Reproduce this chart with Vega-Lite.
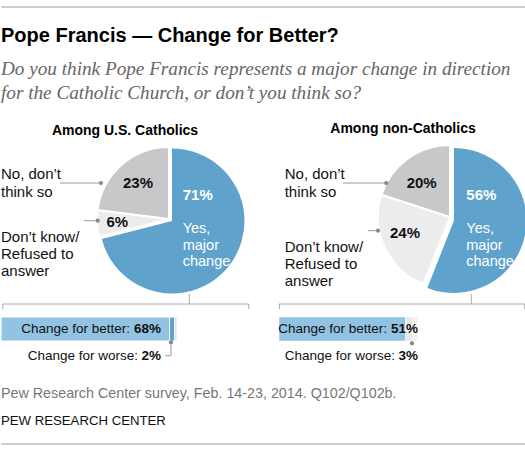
{
  "$schema": "https://vega.github.io/schema/vega-lite/v6.json",
  "padding": {"left": 0, "right": 0, "top": 5, "bottom": 5},
  "background": "#ffffff",
  "config": {
    "view": {"stroke": null},
    "axis": {"disable": true},
    "legend": {"disable": true},
    "font": "Liberation Sans",
    "text": {"font": "Liberation Sans", "fontSize": 15, "baseline": "middle", "color": "#111111"},
    "title": {"font": "Liberation Sans"}
  },
  "datasets": {
    "cathPie": [
      {"response": "Yes, major change", "share": 0.71, "order": 1},
      {"response": "Don’t know/Refused to answer", "share": 0.06, "order": 2},
      {"response": "No, don’t think so", "share": 0.23, "order": 3}
    ],
    "nonPie": [
      {"response": "Yes, major change", "share": 0.56, "order": 1},
      {"response": "Don’t know/Refused to answer", "share": 0.24, "order": 2},
      {"response": "No, don’t think so", "share": 0.20, "order": 3}
    ],
    "cathBar": [
      {"assessment": "Change for better", "share": 0.68, "order": 1},
      {"assessment": "Change for worse", "share": 0.02, "order": 2},
      {"assessment": "Neither/Don’t know", "share": 0.01, "order": 3}
    ],
    "nonBar": [
      {"assessment": "Change for better", "share": 0.51, "order": 1},
      {"assessment": "Change for worse", "share": 0.03, "order": 2},
      {"assessment": "Neither/Don’t know", "share": 0.02, "order": 3}
    ]
  },
  "spacing": 18,
  "vconcat": [
    {
      "width": 525,
      "height": 1,
      "data": {"values": []},
      "mark": {"type": "point", "opacity": 0},
      "encoding": {},
      "view": {"stroke": "#cccccc", "strokeWidth": 1},
      "title": {
        "text": "Pope Francis — Change for Better?",
        "subtitle": ["Do you think Pope Francis represents a major change in direction", "for the Catholic Church, or don’t you think so?"],
        "orient": "bottom",
        "anchor": "start",
        "frame": "group",
        "offset": 19,
        "font": "Liberation Sans",
        "fontSize": 20,
        "fontWeight": "bold",
        "color": "#000000",
        "subtitleFont": "Liberation Serif",
        "subtitleFontStyle": "italic",
        "subtitleFontSize": 19.2,
        "subtitleColor": "#666666",
        "subtitleLineHeight": 24,
        "subtitlePadding": 13.5
      }
    },
    {
      "spacing": 28,
      "hconcat": [
        {
          "width": 248,
          "height": 224,
          "title": {"text": "Among U.S. Catholics", "fontSize": 14, "fontWeight": "bold", "color": "#000000", "offset": 5, "anchor": "middle", "frame": "group"},
          "data": {"name": "cathPie"},
          "resolve": {"scale": {"color": "independent"}},
          "layer": [
            {
              "transform": [
                {"stack": "share", "groupby": [], "sort": [{"field": "order", "order": "ascending"}], "as": ["t0", "t1"]},
                {"filter": {"field": "response", "oneOf": ["Don’t know/Refused to answer", "No, don’t think so"]}}
              ],
              "mark": {"type": "arc", "radius": 72, "stroke": "#ffffff", "strokeWidth": 2},
              "encoding": {
                "theta": {"field": "t0", "type": "quantitative", "scale": {"domain": [0, 1]}},
                "theta2": {"field": "t1"},
                "color": {"field": "response", "type": "nominal", "scale": {"domain": ["Don’t know/Refused to answer", "No, don’t think so"], "range": ["#ececec", "#c8c8c8"]}},
                "x": {"datum": 0.6774, "type": "quantitative", "scale": {"domain": [0, 1], "nice": false, "zero": false}},
                "y": {"datum": 75, "type": "quantitative", "scale": {"domain": [0, 224], "reverse": true, "nice": false, "zero": false}}
              }
            },
            {
              "transform": [
                {"stack": "share", "groupby": [], "sort": [{"field": "order", "order": "ascending"}], "as": ["t0", "t1"]},
                {"filter": {"field": "response", "equal": "Yes, major change"}}
              ],
              "mark": {"type": "arc", "radius": 72.5},
              "encoding": {
                "theta": {"field": "t0", "type": "quantitative", "scale": {"domain": [0, 1]}},
                "theta2": {"field": "t1"},
                "color": {"field": "response", "type": "nominal", "scale": {"domain": ["Yes, major change"], "range": ["#5fa3cd"]}},
                "x": {"datum": 0.6895, "type": "quantitative"},
                "y": {"datum": 77, "type": "quantitative"}
              }
            },
            {
              "transform": [{"filter": {"field": "response", "equal": "No, don’t think so"}}],
              "mark": {"type": "text", "fontWeight": "bold", "fontSize": 15},
              "encoding": {"text": {"field": "share", "type": "quantitative", "format": ".0%"}, "x": {"datum": 0.5524, "type": "quantitative"}, "y": {"datum": 38.5, "type": "quantitative"}}
            },
            {
              "transform": [{"filter": {"field": "response", "equal": "Don’t know/Refused to answer"}}],
              "mark": {"type": "text", "fontWeight": "bold", "fontSize": 15},
              "encoding": {"text": {"field": "share", "type": "quantitative", "format": ".0%"}, "x": {"datum": 0.469, "type": "quantitative"}, "y": {"datum": 77.8, "type": "quantitative"}}
            },
            {
              "transform": [{"filter": {"field": "response", "equal": "Yes, major change"}}],
              "mark": {"type": "text", "fontWeight": "bold", "fontSize": 15, "align": "left", "color": "#ffffff"},
              "encoding": {"text": {"field": "share", "type": "quantitative", "format": ".0%"}, "x": {"datum": 0.7327, "type": "quantitative"}, "y": {"datum": 50.7, "type": "quantitative"}}
            },
            {
              "transform": [{"filter": {"field": "response", "equal": "Yes, major change"}}],
              "mark": {"type": "text", "text": ["Yes,", "major", "change"], "fontSize": 14.5, "align": "left", "color": "#ffffff", "lineHeight": 16.7},
              "encoding": {"x": {"datum": 0.7327, "type": "quantitative"}, "y": {"datum": 85, "type": "quantitative"}}
            },
            {
              "transform": [{"filter": {"field": "response", "equal": "No, don’t think so"}}],
              "mark": {"type": "text", "text": ["No, don’t", "think so"], "fontSize": 15, "align": "left", "lineHeight": 17.3},
              "encoding": {"x": {"datum": 0.0, "type": "quantitative"}, "y": {"datum": 30.3, "type": "quantitative"}}
            },
            {
              "transform": [{"filter": {"field": "response", "equal": "No, don’t think so"}}],
              "mark": {"type": "rule", "color": "#9a9a9a", "strokeWidth": 1},
              "encoding": {"x": {"datum": 0.2379, "type": "quantitative"}, "x2": {"datum": 0.4032}, "y": {"datum": 39, "type": "quantitative"}}
            },
            {
              "transform": [{"filter": {"field": "response", "equal": "No, don’t think so"}}],
              "mark": {"type": "point", "filled": true, "size": 18, "color": "#888888", "opacity": 1},
              "encoding": {"x": {"datum": 0.4032, "type": "quantitative"}, "y": {"datum": 39, "type": "quantitative"}}
            },
            {
              "transform": [{"filter": {"field": "response", "equal": "Don’t know/Refused to answer"}}],
              "mark": {"type": "text", "text": ["Don’t know/", "Refused to", "answer"], "fontSize": 15, "align": "left", "lineHeight": 16.7},
              "encoding": {"x": {"datum": 0.0, "type": "quantitative"}, "y": {"datum": 93.3, "type": "quantitative"}}
            },
            {
              "transform": [{"filter": {"field": "response", "equal": "Don’t know/Refused to answer"}}],
              "mark": {"type": "rule", "color": "#9a9a9a", "strokeWidth": 1},
              "encoding": {"x": {"datum": 0.3359, "type": "quantitative"}, "x2": {"datum": 0.3899}, "y": {"datum": 76.7, "type": "quantitative"}}
            },
            {
              "transform": [{"filter": {"field": "response", "equal": "Don’t know/Refused to answer"}}],
              "mark": {"type": "point", "filled": true, "size": 18, "color": "#888888", "opacity": 1},
              "encoding": {"x": {"datum": 0.3899, "type": "quantitative"}, "y": {"datum": 76.7, "type": "quantitative"}}
            },
            {
              "transform": [{"filter": {"field": "response", "equal": "Yes, major change"}}],
              "mark": {"type": "rule", "color": "#aaaaaa", "strokeWidth": 1},
              "encoding": {"x": {"datum": 0.7593, "type": "quantitative"}, "y": {"datum": 150, "type": "quantitative"}, "y2": {"datum": 160}}
            },
            {
              "transform": [{"filter": {"field": "response", "equal": "Yes, major change"}}],
              "mark": {"type": "rule", "color": "#aaaaaa", "strokeWidth": 1},
              "encoding": {"x": {"datum": 0.007, "type": "quantitative"}, "x2": {"datum": 0.9988}, "y": {"datum": 160, "type": "quantitative"}}
            },
            {
              "transform": [{"filter": {"field": "response", "equal": "Yes, major change"}}],
              "mark": {"type": "rule", "color": "#aaaaaa", "strokeWidth": 1},
              "encoding": {"x": {"datum": 0.007, "type": "quantitative"}, "y": {"datum": 160, "type": "quantitative"}, "y2": {"datum": 165}}
            },
            {
              "transform": [{"filter": {"field": "response", "equal": "Yes, major change"}}],
              "mark": {"type": "rule", "color": "#aaaaaa", "strokeWidth": 1},
              "encoding": {"x": {"datum": 0.9988, "type": "quantitative"}, "y": {"datum": 160, "type": "quantitative"}, "y2": {"datum": 165}}
            },
            {
              "data": {"name": "cathBar"},
              "transform": [{"stack": "share", "groupby": [], "sort": [{"field": "order", "order": "ascending"}], "as": ["b0", "b1"]}],
              "mark": {"type": "bar", "stroke": "#ffffff", "strokeWidth": 1},
              "encoding": {
                "x": {"field": "b0", "type": "quantitative"},
                "x2": {"field": "b1"},
                "y": {"datum": 173, "type": "quantitative"},
                "y2": {"datum": 197},
                "color": {"field": "assessment", "type": "nominal", "scale": {"domain": ["Change for better", "Change for worse", "Neither/Don’t know"], "range": ["#92c3e3", "#5d9fcf", "#dcdcdc"]}}
              }
            },
            {
              "data": {"name": "cathBar"},
              "transform": [{"filter": {"field": "assessment", "equal": "Change for better"}}],
              "mark": {"type": "text", "fontWeight": "bold", "fontSize": 13.5, "align": "right"},
              "encoding": {"text": {"field": "share", "type": "quantitative", "format": ".0%"}, "x": {"datum": 0.6452, "type": "quantitative"}, "y": {"datum": 185, "type": "quantitative"}}
            },
            {
              "data": {"name": "cathBar"},
              "transform": [{"filter": {"field": "assessment", "equal": "Change for better"}}],
              "mark": {"type": "text", "text": "Change for better:", "fontSize": 13.5, "align": "right", "dx": -31},
              "encoding": {"x": {"datum": 0.6452, "type": "quantitative"}, "y": {"datum": 185, "type": "quantitative"}}
            },
            {
              "data": {"name": "cathBar"},
              "transform": [{"filter": {"field": "assessment", "equal": "Change for worse"}}],
              "mark": {"type": "text", "fontWeight": "bold", "fontSize": 13.5, "align": "right"},
              "encoding": {"text": {"field": "share", "type": "quantitative", "format": ".0%"}, "x": {"datum": 0.6452, "type": "quantitative"}, "y": {"datum": 211.7, "type": "quantitative"}}
            },
            {
              "data": {"name": "cathBar"},
              "transform": [{"filter": {"field": "assessment", "equal": "Change for worse"}}],
              "mark": {"type": "text", "text": "Change for worse:", "fontSize": 13.5, "align": "right", "dx": -23},
              "encoding": {"x": {"datum": 0.6452, "type": "quantitative"}, "y": {"datum": 211.7, "type": "quantitative"}}
            },
            {
              "data": {"name": "cathBar"},
              "transform": [{"filter": {"field": "assessment", "equal": "Change for worse"}}],
              "mark": {"type": "rule", "color": "#9a9a9a", "strokeWidth": 1},
              "encoding": {"x": {"datum": 0.6855, "type": "quantitative"}, "y": {"datum": 198.3, "type": "quantitative"}, "y2": {"datum": 211.7}}
            },
            {
              "data": {"name": "cathBar"},
              "transform": [{"filter": {"field": "assessment", "equal": "Change for worse"}}],
              "mark": {"type": "rule", "color": "#9a9a9a", "strokeWidth": 1},
              "encoding": {"x": {"datum": 0.6626, "type": "quantitative"}, "x2": {"datum": 0.6855}, "y": {"datum": 211.7, "type": "quantitative"}}
            },
            {
              "data": {"name": "cathBar"},
              "transform": [{"filter": {"field": "assessment", "equal": "Change for worse"}}],
              "mark": {"type": "point", "filled": true, "size": 18, "color": "#888888", "opacity": 1},
              "encoding": {"x": {"datum": 0.6855, "type": "quantitative"}, "y": {"datum": 198.3, "type": "quantitative"}}
            }
          ]
        },
        {
          "width": 248,
          "height": 224,
          "title": {"text": "Among non-Catholics", "fontSize": 14, "fontWeight": "bold", "color": "#000000", "offset": 5, "anchor": "middle", "frame": "group"},
          "data": {"name": "nonPie"},
          "resolve": {"scale": {"color": "independent"}},
          "layer": [
            {
              "transform": [
                {"stack": "share", "groupby": [], "sort": [{"field": "order", "order": "ascending"}], "as": ["t0", "t1"]},
                {"filter": {"field": "response", "oneOf": ["Don’t know/Refused to answer", "No, don’t think so"]}}
              ],
              "mark": {"type": "arc", "radius": 72, "stroke": "#ffffff", "strokeWidth": 2},
              "encoding": {
                "theta": {"field": "t0", "type": "quantitative", "scale": {"domain": [0, 1]}},
                "theta2": {"field": "t1"},
                "color": {"field": "response", "type": "nominal", "scale": {"domain": ["Don’t know/Refused to answer", "No, don’t think so"], "range": ["#ececec", "#c8c8c8"]}},
                "x": {"datum": 0.6895, "type": "quantitative", "scale": {"domain": [0, 1], "nice": false, "zero": false}},
                "y": {"datum": 73, "type": "quantitative", "scale": {"domain": [0, 224], "reverse": true, "nice": false, "zero": false}}
              }
            },
            {
              "transform": [
                {"stack": "share", "groupby": [], "sort": [{"field": "order", "order": "ascending"}], "as": ["t0", "t1"]},
                {"filter": {"field": "response", "equal": "Yes, major change"}}
              ],
              "mark": {"type": "arc", "radius": 72.5},
              "encoding": {
                "theta": {"field": "t0", "type": "quantitative", "scale": {"domain": [0, 1]}},
                "theta2": {"field": "t1"},
                "color": {"field": "response", "type": "nominal", "scale": {"domain": ["Yes, major change"], "range": ["#5fa3cd"]}},
                "x": {"datum": 0.7056, "type": "quantitative"},
                "y": {"datum": 76.5, "type": "quantitative"}
              }
            },
            {
              "transform": [{"filter": {"field": "response", "equal": "No, don’t think so"}}],
              "mark": {"type": "text", "fontWeight": "bold", "fontSize": 15},
              "encoding": {"text": {"field": "share", "type": "quantitative", "format": ".0%"}, "x": {"datum": 0.5754, "type": "quantitative"}, "y": {"datum": 39, "type": "quantitative"}}
            },
            {
              "transform": [{"filter": {"field": "response", "equal": "Don’t know/Refused to answer"}}],
              "mark": {"type": "text", "fontWeight": "bold", "fontSize": 15},
              "encoding": {"text": {"field": "share", "type": "quantitative", "format": ".0%"}, "x": {"datum": 0.5081, "type": "quantitative"}, "y": {"datum": 89, "type": "quantitative"}}
            },
            {
              "transform": [{"filter": {"field": "response", "equal": "Yes, major change"}}],
              "mark": {"type": "text", "fontWeight": "bold", "fontSize": 15, "align": "left", "color": "#ffffff"},
              "encoding": {"text": {"field": "share", "type": "quantitative", "format": ".0%"}, "x": {"datum": 0.7552, "type": "quantitative"}, "y": {"datum": 50.7, "type": "quantitative"}}
            },
            {
              "transform": [{"filter": {"field": "response", "equal": "Yes, major change"}}],
              "mark": {"type": "text", "text": ["Yes,", "major", "change"], "fontSize": 14.5, "align": "left", "color": "#ffffff", "lineHeight": 16.7},
              "encoding": {"x": {"datum": 0.7552, "type": "quantitative"}, "y": {"datum": 85, "type": "quantitative"}}
            },
            {
              "transform": [{"filter": {"field": "response", "equal": "No, don’t think so"}}],
              "mark": {"type": "text", "text": ["No, don’t", "think so"], "fontSize": 15, "align": "left", "lineHeight": 17.3},
              "encoding": {"x": {"datum": 0.023, "type": "quantitative"}, "y": {"datum": 30.3, "type": "quantitative"}}
            },
            {
              "transform": [{"filter": {"field": "response", "equal": "No, don’t think so"}}],
              "mark": {"type": "rule", "color": "#9a9a9a", "strokeWidth": 1},
              "encoding": {"x": {"datum": 0.2581, "type": "quantitative"}, "x2": {"datum": 0.4327}, "y": {"datum": 39, "type": "quantitative"}}
            },
            {
              "transform": [{"filter": {"field": "response", "equal": "No, don’t think so"}}],
              "mark": {"type": "point", "filled": true, "size": 18, "color": "#888888", "opacity": 1},
              "encoding": {"x": {"datum": 0.4327, "type": "quantitative"}, "y": {"datum": 39, "type": "quantitative"}}
            },
            {
              "transform": [{"filter": {"field": "response", "equal": "Don’t know/Refused to answer"}}],
              "mark": {"type": "text", "text": ["Don’t know/", "Refused to", "answer"], "fontSize": 15, "align": "left", "lineHeight": 16.7},
              "encoding": {"x": {"datum": 0.023, "type": "quantitative"}, "y": {"datum": 103.3, "type": "quantitative"}}
            },
            {
              "transform": [{"filter": {"field": "response", "equal": "Don’t know/Refused to answer"}}],
              "mark": {"type": "rule", "color": "#9a9a9a", "strokeWidth": 1},
              "encoding": {"x": {"datum": 0.3589, "type": "quantitative"}, "x2": {"datum": 0.3992}, "y": {"datum": 86.7, "type": "quantitative"}}
            },
            {
              "transform": [{"filter": {"field": "response", "equal": "Don’t know/Refused to answer"}}],
              "mark": {"type": "point", "filled": true, "size": 18, "color": "#888888", "opacity": 1},
              "encoding": {"x": {"datum": 0.3992, "type": "quantitative"}, "y": {"datum": 86.7, "type": "quantitative"}}
            },
            {
              "transform": [{"filter": {"field": "response", "equal": "Yes, major change"}}],
              "mark": {"type": "rule", "color": "#aaaaaa", "strokeWidth": 1},
              "encoding": {"x": {"datum": 0.7754, "type": "quantitative"}, "y": {"datum": 150, "type": "quantitative"}, "y2": {"datum": 160}}
            },
            {
              "transform": [{"filter": {"field": "response", "equal": "Yes, major change"}}],
              "mark": {"type": "rule", "color": "#aaaaaa", "strokeWidth": 1},
              "encoding": {"x": {"datum": 0.0, "type": "quantitative"}, "x2": {"datum": 0.9907}, "y": {"datum": 160, "type": "quantitative"}}
            },
            {
              "transform": [{"filter": {"field": "response", "equal": "Yes, major change"}}],
              "mark": {"type": "rule", "color": "#aaaaaa", "strokeWidth": 1},
              "encoding": {"x": {"datum": 0.002, "type": "quantitative"}, "y": {"datum": 160, "type": "quantitative"}, "y2": {"datum": 165}}
            },
            {
              "transform": [{"filter": {"field": "response", "equal": "Yes, major change"}}],
              "mark": {"type": "rule", "color": "#aaaaaa", "strokeWidth": 1},
              "encoding": {"x": {"datum": 0.9907, "type": "quantitative"}, "y": {"datum": 160, "type": "quantitative"}, "y2": {"datum": 165}}
            },
            {
              "data": {"name": "nonBar"},
              "transform": [{"stack": "share", "groupby": [], "sort": [{"field": "order", "order": "ascending"}], "as": ["b0", "b1"]}],
              "mark": {"type": "bar", "stroke": "#ffffff", "strokeWidth": 0.5},
              "encoding": {
                "x": {"field": "b0", "type": "quantitative"},
                "x2": {"field": "b1"},
                "y": {"datum": 173, "type": "quantitative"},
                "y2": {"datum": 197},
                "color": {"field": "assessment", "type": "nominal", "scale": {"domain": ["Change for better", "Change for worse", "Neither/Don’t know"], "range": ["#92c3e3", "#e8e8e8", "#f1f1f1"]}}
              }
            },
            {
              "data": {"name": "nonBar"},
              "transform": [{"filter": {"field": "assessment", "equal": "Change for better"}}],
              "mark": {"type": "text", "fontWeight": "bold", "fontSize": 13.5, "align": "right"},
              "encoding": {"text": {"field": "share", "type": "quantitative", "format": ".0%"}, "x": {"datum": 0.5605, "type": "quantitative"}, "y": {"datum": 185, "type": "quantitative"}}
            },
            {
              "data": {"name": "nonBar"},
              "transform": [{"filter": {"field": "assessment", "equal": "Change for better"}}],
              "mark": {"type": "text", "text": "Change for better:", "fontSize": 13.5, "align": "right", "dx": -31},
              "encoding": {"x": {"datum": 0.5605, "type": "quantitative"}, "y": {"datum": 185, "type": "quantitative"}}
            },
            {
              "data": {"name": "nonBar"},
              "transform": [{"filter": {"field": "assessment", "equal": "Change for worse"}}],
              "mark": {"type": "text", "fontWeight": "bold", "fontSize": 13.5, "align": "right"},
              "encoding": {"text": {"field": "share", "type": "quantitative", "format": ".0%"}, "x": {"datum": 0.5605, "type": "quantitative"}, "y": {"datum": 211.7, "type": "quantitative"}}
            },
            {
              "data": {"name": "nonBar"},
              "transform": [{"filter": {"field": "assessment", "equal": "Change for worse"}}],
              "mark": {"type": "text", "text": "Change for worse:", "fontSize": 13.5, "align": "right", "dx": -23},
              "encoding": {"x": {"datum": 0.5605, "type": "quantitative"}, "y": {"datum": 211.7, "type": "quantitative"}}
            },
            {
              "data": {"name": "nonBar"},
              "transform": [{"filter": {"field": "assessment", "equal": "Change for worse"}}],
              "mark": {"type": "rule", "color": "#9a9a9a", "strokeWidth": 1},
              "encoding": {"x": {"datum": 0.5363, "type": "quantitative"}, "y": {"datum": 197, "type": "quantitative"}, "y2": {"datum": 199.3}}
            },
            {
              "data": {"name": "nonBar"},
              "transform": [{"filter": {"field": "assessment", "equal": "Change for worse"}}],
              "mark": {"type": "point", "filled": true, "size": 18, "color": "#888888", "opacity": 1},
              "encoding": {"x": {"datum": 0.5363, "type": "quantitative"}, "y": {"datum": 199.3, "type": "quantitative"}}
            }
          ]
        }
      ]
    },
    {
      "width": 525,
      "height": 1,
      "data": {"values": []},
      "mark": {"type": "point", "opacity": 0},
      "encoding": {},
      "view": {"stroke": "#cccccc", "strokeWidth": 1},
      "title": {
        "text": "Pew Research Center survey, Feb. 14-23, 2014. Q102/Q102b.",
        "subtitle": "PEW RESEARCH CENTER",
        "orient": "top",
        "anchor": "start",
        "frame": "group",
        "offset": 16,
        "font": "Liberation Sans",
        "fontSize": 14.3,
        "fontWeight": "normal",
        "color": "#777777",
        "subtitleFont": "Liberation Sans",
        "subtitleFontSize": 13.2,
        "subtitleColor": "#111111",
        "subtitlePadding": 14
      }
    }
  ]
}
